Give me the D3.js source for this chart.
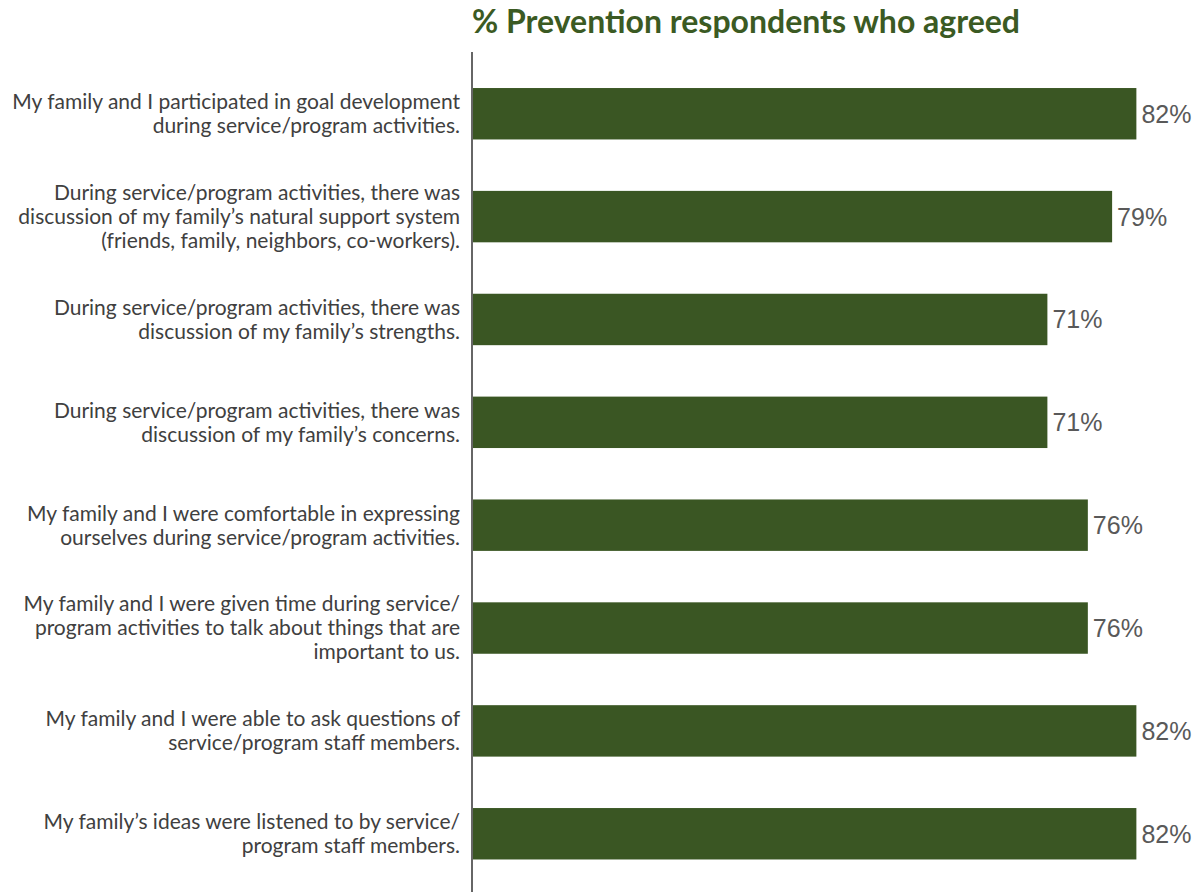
<!DOCTYPE html>
<html>
<head>
<meta charset="utf-8">
<script src="https://cdn.jsdelivr.net/npm/d3@7"></script>
<style>
  html, body { margin: 0; padding: 0; background: #fff; }
  svg { display: block; }
</style>
</head>
<body>
<svg id="chart" width="1200" height="892"></svg>
<script>
// Survey statements (each line of a label is its own entry)
const statements = [
  ["My family and I participated in goal development", "during service/program activities."],
  ["During service/program activities, there was", "discussion of my family\u2019s natural support system", "(friends, family, neighbors, co-workers)."],
  ["During service/program activities, there was", "discussion of my family\u2019s strengths."],
  ["During service/program activities, there was", "discussion of my family\u2019s concerns."],
  ["My family and I were comfortable in expressing", "ourselves during service/program activities."],
  ["My family and I were given time during service/", "program activities to talk about things that are", "important to us."],
  ["My family and I were able to ask questions of", "service/program staff members."],
  ["My family\u2019s ideas were listened to by service/", "program staff members."]
];
// Percent who agreed
const agreed = [82, 79, 71, 71, 76, 76, 82, 82];
const chartTitle = "% Prevention respondents who agreed";

const svg = d3.select("#chart");
const ids = statements.map((_, i) => i);

const x = d3.scaleLinear().domain([0, 100]).range([473, 1282]);
const y = d3.scaleBand().domain(ids).range([36.6, 910.9]).paddingInner(0.5).paddingOuter(0.5);

// Title
svg.append("text")
  .attr("x", 746).attr("y", 33)
  .attr("text-anchor", "middle")
  .attr("font-family", "Lato, 'Open Sans', sans-serif")
  .attr("font-weight", "bold")
  .attr("font-size", 32)
  .attr("fill", "#3b5a23")
  .text(chartTitle);

// Bars
svg.append("g").selectAll("rect")
  .data(ids)
  .join("rect")
  .attr("x", x(0))
  .attr("y", i => y(i))
  .attr("width", i => x(agreed[i]) - x(0))
  .attr("height", y.bandwidth())
  .attr("fill", "#3a5623");

// Value labels
svg.append("g").selectAll("text")
  .data(ids)
  .join("text")
  .attr("x", i => x(agreed[i]) + 5)
  .attr("y", i => y(i) + y.bandwidth() / 2)
  .attr("dy", "0.36em")
  .attr("font-family", "'Liberation Sans', Arial, sans-serif")
  .attr("font-size", 25)
  .attr("fill", "#595959")
  .text(i => agreed[i] + "%");

// Category labels, wrapped and right-aligned to the axis
const lineH = 24;
const labels = svg.append("g")
  .attr("font-family", "Lato, 'Open Sans', sans-serif")
  .attr("font-size", 21)
  .attr("fill", "#404040")
  .attr("text-anchor", "end");
labels.selectAll("text")
  .data(ids)
  .join("text")
  .attr("transform", i => `translate(460, ${y(i) + y.bandwidth() / 2})`)
  .each(function (i) {
    const lines = statements[i];
    const off = -(lines.length - 1) / 2 * lineH;
    d3.select(this).selectAll("tspan")
      .data(lines)
      .join("tspan")
      .attr("x", 0)
      .attr("y", (d, k) => off + k * lineH)
      .attr("dy", "0.35em")
      .text(d => d);
  });

// Vertical axis line
svg.append("line")
  .attr("x1", 472).attr("x2", 472)
  .attr("y1", 52).attr("y2", 892)
  .attr("stroke", "#666")
  .attr("stroke-width", 2);
</script>
</body>
</html>
